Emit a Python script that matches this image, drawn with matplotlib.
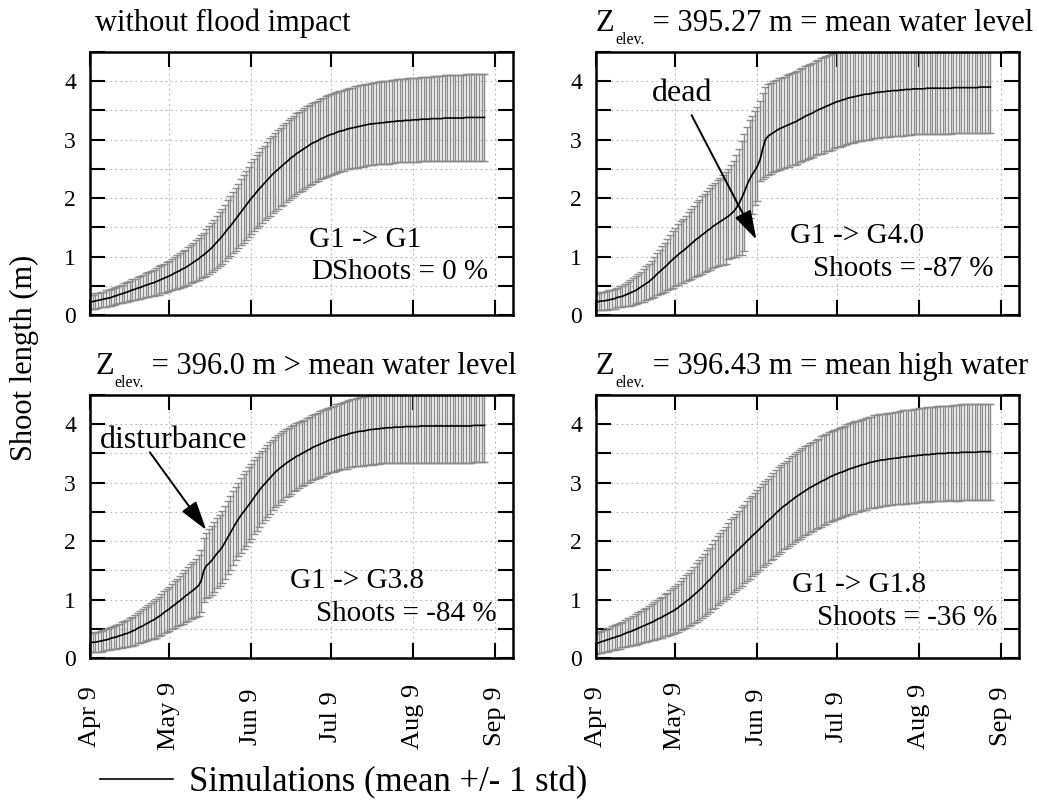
"""
Shoot length simulations (mean +/- 1 std) for four flood scenarios.
"""
import datetime as dt
import matplotlib
matplotlib.use("Agg")
import matplotlib.pyplot as plt
import matplotlib.dates as mdates
from matplotlib.lines import Line2D
from matplotlib.ticker import MultipleLocator, FuncFormatter

plt.rcParams["font.family"] = ["Liberation Serif", "DejaVu Serif"]

# ─── DATA ────────────────────────────────────────────────────────────────────
START = dt.date(2005, 4, 9)
N_DAYS = 150
TICK_DATES = [dt.date(2005, 4, 9), dt.date(2005, 5, 9), dt.date(2005, 6, 9),
              dt.date(2005, 7, 9), dt.date(2005, 8, 9), dt.date(2005, 9, 9)]
TICK_LABELS = ["Apr 9", "May 9", "Jun 9", "Jul 9", "Aug 9", "Sep 9"]

TITLE_MAIN = ["without flood impact", "Z", "Z", "Z"]
TITLE_SUB = ["", "elev.", "elev.", "elev."]
TITLE_REST = ["", " = 395.27 m = mean water level",
              " = 396.0 m > mean water level", " = 396.43 m = mean high water"]
CLASS_CHANGE = ["G1 -> G1", "G1 -> G4.0", "G1 -> G3.8", "G1 -> G1.8"]
SHOOTS_CHANGE = ["Shoots = 0 %", "Shoots = -87 %", "Shoots = -84 %", "Shoots = -36 %"]

# panel 1: without flood impact
mean_p1 = [
    0.22, 0.23, 0.24, 0.25, 0.26, 0.27, 0.28, 0.29, 0.30, 0.32,
    0.33, 0.35, 0.36, 0.38, 0.39, 0.41, 0.43, 0.44, 0.46, 0.47,
    0.49, 0.51, 0.52, 0.54, 0.55, 0.57, 0.59, 0.61, 0.63, 0.65,
    0.67, 0.69, 0.72, 0.74, 0.76, 0.79, 0.81, 0.84, 0.87, 0.90,
    0.93, 0.96, 1.00, 1.03, 1.07, 1.11, 1.15, 1.20, 1.25, 1.30,
    1.35, 1.41, 1.47, 1.52, 1.58, 1.64, 1.70, 1.76, 1.82, 1.88,
    1.94, 2.00, 2.05, 2.11, 2.16, 2.21, 2.26, 2.31, 2.36, 2.41,
    2.45, 2.49, 2.53, 2.57, 2.61, 2.65, 2.69, 2.72, 2.76, 2.79,
    2.82, 2.85, 2.88, 2.91, 2.94, 2.96, 2.98, 3.01, 3.03, 3.05,
    3.07, 3.09, 3.10, 3.12, 3.14, 3.15, 3.16, 3.18, 3.19, 3.20,
    3.21, 3.22, 3.23, 3.24, 3.25, 3.26, 3.27, 3.27, 3.28, 3.28,
    3.29, 3.29, 3.30, 3.30, 3.31, 3.31, 3.32, 3.32, 3.32, 3.33,
    3.33, 3.33, 3.34, 3.34, 3.34, 3.35, 3.35, 3.35, 3.35, 3.36,
    3.36, 3.36, 3.36, 3.36, 3.37, 3.37, 3.37, 3.37, 3.37, 3.37,
    3.37, 3.37, 3.38, 3.38, 3.38, 3.38, 3.38, 3.38, 3.38, 3.38,
]
std_p1 = [
    0.12, 0.12, 0.13, 0.13, 0.13, 0.13, 0.14, 0.14, 0.14, 0.15,
    0.15, 0.15, 0.16, 0.16, 0.17, 0.17, 0.18, 0.18, 0.19, 0.19,
    0.20, 0.21, 0.21, 0.22, 0.22, 0.23, 0.24, 0.24, 0.25, 0.25,
    0.26, 0.27, 0.28, 0.29, 0.30, 0.31, 0.31, 0.32, 0.33, 0.34,
    0.35, 0.36, 0.37, 0.38, 0.40, 0.41, 0.42, 0.43, 0.44, 0.46,
    0.47, 0.48, 0.50, 0.51, 0.52, 0.54, 0.55, 0.56, 0.58, 0.59,
    0.60, 0.61, 0.62, 0.62, 0.63, 0.64, 0.64, 0.65, 0.66, 0.66,
    0.67, 0.67, 0.67, 0.68, 0.68, 0.68, 0.68, 0.69, 0.69, 0.69,
    0.69, 0.69, 0.69, 0.69, 0.69, 0.69, 0.69, 0.69, 0.69, 0.69,
    0.69, 0.69, 0.69, 0.69, 0.69, 0.69, 0.69, 0.69, 0.69, 0.69,
    0.70, 0.70, 0.70, 0.70, 0.70, 0.70, 0.70, 0.70, 0.70, 0.70,
    0.71, 0.71, 0.71, 0.71, 0.71, 0.71, 0.71, 0.71, 0.71, 0.71,
    0.72, 0.72, 0.72, 0.72, 0.72, 0.72, 0.72, 0.72, 0.72, 0.72,
    0.73, 0.73, 0.73, 0.73, 0.73, 0.73, 0.73, 0.73, 0.73, 0.73,
    0.74, 0.74, 0.74, 0.74, 0.74, 0.74, 0.74, 0.74, 0.74, 0.74,
]

# panel 2: Z = 395.27 m (dead shoots around early June)
mean_p2 = [
    0.22, 0.23, 0.24, 0.24, 0.25, 0.26, 0.27, 0.28, 0.30, 0.31,
    0.32, 0.34, 0.36, 0.38, 0.40, 0.42, 0.45, 0.48, 0.51, 0.54,
    0.57, 0.61, 0.65, 0.70, 0.74, 0.78, 0.82, 0.86, 0.91, 0.95,
    0.99, 1.03, 1.07, 1.10, 1.14, 1.18, 1.22, 1.26, 1.30, 1.33,
    1.37, 1.40, 1.44, 1.47, 1.51, 1.54, 1.57, 1.60, 1.63, 1.66,
    1.69, 1.73, 1.77, 1.83, 1.90, 2.00, 2.10, 2.22, 2.32, 2.40,
    2.47, 2.55, 2.66, 2.85, 3.00, 3.06, 3.09, 3.12, 3.15, 3.18,
    3.20, 3.22, 3.24, 3.26, 3.28, 3.30, 3.32, 3.35, 3.37, 3.40,
    3.42, 3.44, 3.46, 3.49, 3.51, 3.53, 3.55, 3.57, 3.59, 3.61,
    3.63, 3.65, 3.66, 3.68, 3.69, 3.71, 3.72, 3.73, 3.74, 3.75,
    3.76, 3.77, 3.78, 3.78, 3.79, 3.80, 3.81, 3.81, 3.82, 3.82,
    3.83, 3.83, 3.84, 3.84, 3.84, 3.85, 3.85, 3.86, 3.86, 3.86,
    3.87, 3.87, 3.87, 3.87, 3.87, 3.88, 3.88, 3.88, 3.88, 3.88,
    3.88, 3.88, 3.88, 3.88, 3.88, 3.89, 3.89, 3.89, 3.89, 3.89,
    3.89, 3.89, 3.89, 3.89, 3.89, 3.90, 3.90, 3.90, 3.90, 3.90,
]
std_hi_p2 = [
    0.14, 0.14, 0.15, 0.15, 0.16, 0.16, 0.16, 0.17, 0.17, 0.18,
    0.18, 0.19, 0.20, 0.22, 0.23, 0.24, 0.25, 0.26, 0.28, 0.29,
    0.30, 0.32, 0.34, 0.36, 0.38, 0.40, 0.42, 0.44, 0.46, 0.48,
    0.50, 0.52, 0.53, 0.55, 0.56, 0.58, 0.60, 0.61, 0.63, 0.64,
    0.66, 0.67, 0.68, 0.70, 0.71, 0.72, 0.74, 0.75, 0.77, 0.78,
    0.80, 0.84, 0.87, 0.91, 0.94, 0.98, 0.99, 1.00, 1.01, 1.01,
    1.02, 1.01, 1.00, 0.95, 0.90, 0.89, 0.88, 0.88, 0.87, 0.87,
    0.86, 0.86, 0.86, 0.86, 0.86, 0.86, 0.86, 0.86, 0.86, 0.86,
    0.86, 0.86, 0.86, 0.86, 0.86, 0.86, 0.86, 0.86, 0.86, 0.86,
    0.86, 0.86, 0.86, 0.86, 0.86, 0.86, 0.86, 0.86, 0.86, 0.86,
    0.86, 0.86, 0.86, 0.86, 0.86, 0.86, 0.86, 0.86, 0.86, 0.86,
    0.86, 0.86, 0.86, 0.86, 0.86, 0.86, 0.86, 0.86, 0.86, 0.86,
    0.86, 0.86, 0.86, 0.86, 0.86, 0.86, 0.86, 0.86, 0.86, 0.86,
    0.86, 0.86, 0.86, 0.86, 0.86, 0.86, 0.86, 0.86, 0.86, 0.86,
    0.86, 0.86, 0.86, 0.86, 0.86, 0.86, 0.86, 0.86, 0.86, 0.86,
]
std_lo_p2 = [
    0.14, 0.14, 0.15, 0.15, 0.16, 0.16, 0.16, 0.17, 0.17, 0.18,
    0.18, 0.19, 0.20, 0.22, 0.23, 0.24, 0.25, 0.26, 0.28, 0.29,
    0.30, 0.32, 0.34, 0.36, 0.38, 0.40, 0.42, 0.44, 0.46, 0.48,
    0.50, 0.52, 0.53, 0.55, 0.56, 0.58, 0.60, 0.61, 0.63, 0.64,
    0.66, 0.67, 0.68, 0.70, 0.71, 0.72, 0.74, 0.75, 0.77, 0.78,
    0.74, 0.76, 0.78, 0.83, 0.88, 0.97, 1.00, 0.62, 0.66, 0.68,
    0.59, 0.60, 0.36, 0.52, 0.64, 0.66, 0.67, 0.68, 0.69, 0.70,
    0.70, 0.71, 0.71, 0.72, 0.72, 0.73, 0.73, 0.74, 0.74, 0.75,
    0.75, 0.75, 0.76, 0.76, 0.76, 0.77, 0.77, 0.77, 0.78, 0.78,
    0.78, 0.78, 0.78, 0.78, 0.78, 0.78, 0.78, 0.78, 0.78, 0.78,
    0.78, 0.78, 0.78, 0.78, 0.78, 0.78, 0.78, 0.78, 0.78, 0.78,
    0.78, 0.78, 0.78, 0.78, 0.78, 0.78, 0.78, 0.78, 0.78, 0.78,
    0.78, 0.78, 0.78, 0.78, 0.78, 0.78, 0.78, 0.78, 0.78, 0.78,
    0.78, 0.78, 0.78, 0.78, 0.78, 0.78, 0.78, 0.78, 0.78, 0.78,
    0.78, 0.78, 0.78, 0.78, 0.78, 0.78, 0.78, 0.78, 0.78, 0.78,
]

# panel 3: Z = 396.0 m (disturbance in mid May)
mean_p3 = [
    0.26, 0.27, 0.27, 0.28, 0.29, 0.30, 0.31, 0.32, 0.34, 0.35,
    0.36, 0.38, 0.39, 0.41, 0.42, 0.44, 0.46, 0.48, 0.51, 0.53,
    0.55, 0.58, 0.60, 0.63, 0.65, 0.68, 0.71, 0.74, 0.78, 0.81,
    0.84, 0.88, 0.91, 0.95, 0.98, 1.02, 1.06, 1.09, 1.13, 1.16,
    1.20, 1.24, 1.32, 1.50, 1.58, 1.62, 1.67, 1.73, 1.79, 1.84,
    1.90, 1.98, 2.06, 2.14, 2.22, 2.30, 2.37, 2.44, 2.50, 2.56,
    2.62, 2.68, 2.75, 2.81, 2.87, 2.93, 2.98, 3.03, 3.08, 3.13,
    3.18, 3.22, 3.26, 3.29, 3.33, 3.36, 3.39, 3.42, 3.45, 3.47,
    3.50, 3.52, 3.55, 3.57, 3.60, 3.62, 3.64, 3.66, 3.68, 3.70,
    3.72, 3.74, 3.75, 3.77, 3.78, 3.80, 3.81, 3.82, 3.84, 3.85,
    3.86, 3.87, 3.88, 3.88, 3.89, 3.90, 3.91, 3.91, 3.92, 3.92,
    3.93, 3.93, 3.94, 3.94, 3.94, 3.95, 3.95, 3.95, 3.95, 3.96,
    3.96, 3.96, 3.96, 3.96, 3.96, 3.97, 3.97, 3.97, 3.97, 3.97,
    3.97, 3.97, 3.97, 3.97, 3.97, 3.97, 3.97, 3.97, 3.97, 3.97,
    3.97, 3.97, 3.97, 3.97, 3.97, 3.98, 3.98, 3.98, 3.98, 3.98,
]
std_p3 = [
    0.16, 0.16, 0.17, 0.17, 0.18, 0.18, 0.18, 0.19, 0.19, 0.20,
    0.20, 0.21, 0.22, 0.22, 0.23, 0.24, 0.25, 0.26, 0.26, 0.27,
    0.28, 0.29, 0.30, 0.31, 0.32, 0.33, 0.34, 0.35, 0.36, 0.37,
    0.38, 0.39, 0.40, 0.41, 0.42, 0.44, 0.45, 0.46, 0.47, 0.48,
    0.50, 0.52, 0.53, 0.55, 0.56, 0.58, 0.59, 0.60, 0.60, 0.61,
    0.62, 0.62, 0.62, 0.63, 0.63, 0.63, 0.63, 0.64, 0.64, 0.64,
    0.64, 0.64, 0.63, 0.63, 0.63, 0.62, 0.62, 0.61, 0.61, 0.60,
    0.60, 0.60, 0.59, 0.59, 0.58, 0.58, 0.58, 0.57, 0.57, 0.56,
    0.56, 0.56, 0.56, 0.56, 0.56, 0.56, 0.56, 0.56, 0.56, 0.56,
    0.56, 0.56, 0.56, 0.57, 0.57, 0.57, 0.57, 0.58, 0.58, 0.58,
    0.58, 0.58, 0.59, 0.59, 0.59, 0.59, 0.59, 0.60, 0.60, 0.60,
    0.60, 0.60, 0.61, 0.61, 0.61, 0.61, 0.61, 0.62, 0.62, 0.62,
    0.62, 0.62, 0.62, 0.62, 0.63, 0.63, 0.63, 0.63, 0.63, 0.63,
    0.63, 0.63, 0.63, 0.63, 0.63, 0.63, 0.63, 0.63, 0.63, 0.63,
    0.63, 0.63, 0.63, 0.63, 0.63, 0.63, 0.63, 0.63, 0.63, 0.63,
]

# panel 4: Z = 396.43 m
mean_p4 = [
    0.25, 0.26, 0.28, 0.29, 0.31, 0.32, 0.34, 0.35, 0.37, 0.38,
    0.40, 0.42, 0.44, 0.45, 0.47, 0.49, 0.51, 0.53, 0.55, 0.57,
    0.59, 0.61, 0.63, 0.66, 0.68, 0.70, 0.73, 0.75, 0.78, 0.80,
    0.83, 0.86, 0.90, 0.93, 0.97, 1.00, 1.04, 1.08, 1.12, 1.16,
    1.20, 1.25, 1.30, 1.34, 1.39, 1.44, 1.49, 1.54, 1.58, 1.63,
    1.68, 1.73, 1.77, 1.82, 1.86, 1.91, 1.95, 2.00, 2.04, 2.09,
    2.13, 2.17, 2.22, 2.26, 2.31, 2.35, 2.39, 2.43, 2.48, 2.52,
    2.56, 2.60, 2.63, 2.67, 2.70, 2.74, 2.77, 2.80, 2.83, 2.86,
    2.89, 2.92, 2.94, 2.97, 2.99, 3.02, 3.04, 3.06, 3.09, 3.11,
    3.13, 3.15, 3.17, 3.18, 3.20, 3.22, 3.24, 3.25, 3.27, 3.28,
    3.30, 3.31, 3.32, 3.34, 3.35, 3.36, 3.37, 3.38, 3.39, 3.39,
    3.40, 3.41, 3.41, 3.42, 3.42, 3.43, 3.44, 3.44, 3.45, 3.45,
    3.46, 3.46, 3.47, 3.47, 3.48, 3.48, 3.48, 3.49, 3.49, 3.50,
    3.50, 3.50, 3.50, 3.51, 3.51, 3.51, 3.51, 3.51, 3.52, 3.52,
    3.52, 3.52, 3.52, 3.52, 3.52, 3.53, 3.53, 3.53, 3.53, 3.53,
]
std_p4 = [
    0.18, 0.18, 0.19, 0.19, 0.20, 0.20, 0.20, 0.21, 0.21, 0.22,
    0.22, 0.23, 0.24, 0.24, 0.25, 0.26, 0.27, 0.28, 0.28, 0.29,
    0.30, 0.31, 0.32, 0.33, 0.34, 0.35, 0.36, 0.37, 0.38, 0.39,
    0.40, 0.41, 0.42, 0.44, 0.45, 0.46, 0.47, 0.48, 0.50, 0.51,
    0.52, 0.53, 0.54, 0.55, 0.56, 0.58, 0.59, 0.60, 0.61, 0.62,
    0.63, 0.64, 0.64, 0.65, 0.66, 0.67, 0.67, 0.68, 0.69, 0.69,
    0.70, 0.70, 0.71, 0.71, 0.72, 0.72, 0.72, 0.73, 0.73, 0.74,
    0.74, 0.74, 0.74, 0.75, 0.75, 0.75, 0.75, 0.76, 0.76, 0.76,
    0.76, 0.76, 0.76, 0.76, 0.76, 0.77, 0.77, 0.77, 0.77, 0.77,
    0.77, 0.77, 0.77, 0.77, 0.77, 0.78, 0.78, 0.78, 0.78, 0.78,
    0.78, 0.78, 0.78, 0.78, 0.78, 0.79, 0.79, 0.79, 0.79, 0.79,
    0.79, 0.79, 0.79, 0.79, 0.79, 0.80, 0.80, 0.80, 0.80, 0.80,
    0.80, 0.80, 0.80, 0.80, 0.80, 0.81, 0.81, 0.81, 0.81, 0.81,
    0.81, 0.81, 0.81, 0.81, 0.81, 0.82, 0.82, 0.82, 0.82, 0.82,
    0.82, 0.82, 0.82, 0.82, 0.82, 0.82, 0.82, 0.82, 0.82, 0.82,
]

PANELS = [
    (mean_p1, std_p1, std_p1),
    (mean_p2, std_lo_p2, std_hi_p2),
    (mean_p3, std_p3, std_p3),
    (mean_p4, std_p4, std_p4),
]

# ─── LAYOUT ──────────────────────────────────────────────────────────────────
W, H = 1039, 807
AX_W, AX_H = 423 / W, 263 / H
AX_POS = [
    (90 / W, 1 - 315 / H),
    (596 / W, 1 - 315 / H),
    (90 / W, 1 - 658 / H),
    (596 / W, 1 - 658 / H),
]
TITLE_X = [0.012, 0.0, 0.012, 0.0]
CLASS_POS = [(0.518, 0.260), (0.459, 0.275), (0.473, 0.265), (0.463, 0.252)]
SHOOTS_POS = [(0.941, 0.136), (0.939, 0.148), (0.962, 0.141), (0.948, 0.125)]

BAR_COLOR = "#8c8c8c"
GRID_COLOR = "#b5b5b5"


def day(n):
    return mdates.date2num(START) + n


def int_only(v, _pos):
    return f"{v:.0f}" if abs(v - round(v)) < 1e-6 else ""


def panel_title(ax, i):
    main = ax.text(TITLE_X[i], 1.078, TITLE_MAIN[i], transform=ax.transAxes,
                   ha="left", va="baseline", fontsize=22)
    if not TITLE_SUB[i]:
        return
    sub = ax.annotate(TITLE_SUB[i], xy=(1, 0), xycoords=main,
                      xytext=(0.5, 4.5), textcoords="offset points",
                      ha="left", va="top", fontsize=11.5)
    ax.annotate(TITLE_REST[i], xy=(1, 0), xycoords=(sub, main),
                ha="left", va="bottom", fontsize=22)


fig = plt.figure(figsize=(W / 100, H / 100), dpi=100)
dates = [START + dt.timedelta(days=i) for i in range(N_DAYS)]

axes = []
for i, (mean, lo, hi) in enumerate(PANELS):
    assert len(mean) == N_DAYS and len(lo) == N_DAYS and len(hi) == N_DAYS
    ax = fig.add_axes([AX_POS[i][0], AX_POS[i][1], AX_W, AX_H])
    axes.append(ax)

    ax.errorbar(dates, mean, yerr=[lo, hi], fmt="none", ecolor=BAR_COLOR,
                elinewidth=1.05, capsize=3.0, capthick=1.0, zorder=2)
    ax.plot(dates, mean, color="black", lw=1.2, zorder=3)

    ax.set_xlim(day(0), day(159.8))
    ax.set_ylim(0, 4.5)
    ax.set_xticks(TICK_DATES)
    ax.yaxis.set_major_locator(MultipleLocator(0.5))
    ax.yaxis.set_major_formatter(FuncFormatter(int_only))
    ax.grid(True, color=GRID_COLOR, lw=0.8, dashes=(1.5, 3), zorder=0)

    ax.tick_params(direction="in", length=11, width=1.5, top=True, right=True,
                   labelsize=17)
    ax.tick_params(axis="y", pad=10)
    for sp in ax.spines.values():
        sp.set_linewidth(1.8)

    if i >= 2:
        ax.set_xticklabels(TICK_LABELS, rotation=90, va="center", fontsize=19)
        ax.tick_params(axis="x", pad=42)
    else:
        ax.tick_params(axis="x", labelbottom=False)

    panel_title(ax, i)
    ax.text(CLASS_POS[i][0], CLASS_POS[i][1], CLASS_CHANGE[i],
            transform=ax.transAxes, ha="left", va="baseline", fontsize=21)
    ax.text(SHOOTS_POS[i][0], SHOOTS_POS[i][1], SHOOTS_CHANGE[i],
            transform=ax.transAxes, ha="right", va="baseline", fontsize=21)

# the delta sign of the first panel prints as a plain "D" over the S
axes[0].text(0.522, 0.136, "D", transform=axes[0].transAxes,
             ha="left", va="baseline", fontsize=21)

arrow = dict(arrowstyle="-|>,head_length=0.9,head_width=0.27",
             color="black", lw=1.4, mutation_scale=20, shrinkA=0, shrinkB=0)
axes[1].text(0.132, 0.814, "dead", transform=axes[1].transAxes,
             ha="left", va="baseline", fontsize=23)
axes[1].annotate("", xy=(day(60.6), 1.29), xytext=(day(36.1), 3.42),
                 arrowprops=arrow, zorder=5)
axes[2].text(0.024, 0.80, "disturbance", transform=axes[2].transAxes,
             ha="left", va="baseline", fontsize=23)
axes[2].annotate("", xy=(day(43.9), 2.19), xytext=(day(22.6), 3.52),
                 arrowprops=arrow, zorder=5)

fig.text(24 / W, 1 - 358 / H, "Shoot length (m)", rotation=90,
         ha="center", va="center", fontsize=22)

fig.legend(handles=[Line2D([], [], color="black", lw=1.2)],
           labels=["Simulations (mean +/- 1 std)"],
           loc="center left", bbox_to_anchor=(100 / W, 1 - 783 / H),
           frameon=False, fontsize=25, handlelength=2.1, handletextpad=0.45,
           borderpad=0, borderaxespad=0)

fig.savefig("out.png", dpi=100)
